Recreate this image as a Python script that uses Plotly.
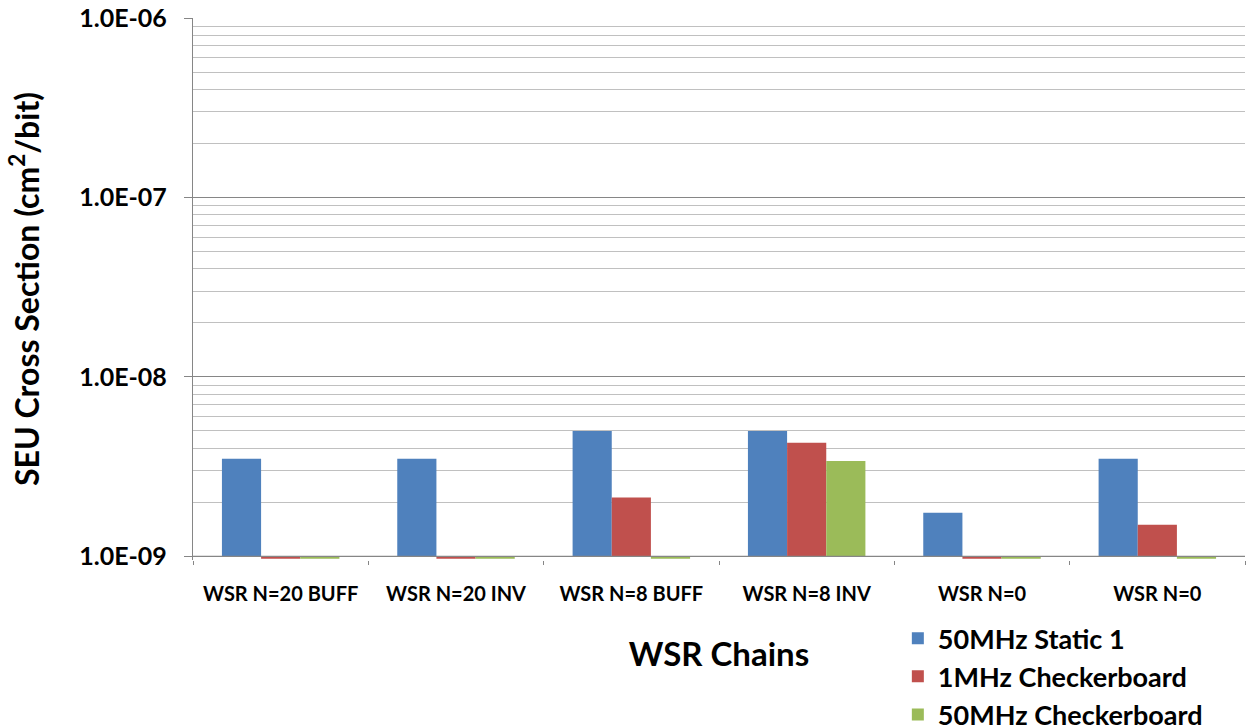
import math
import plotly.graph_objects as go

# WSR chain categories (two separate chains are both labelled "WSR N=0")
chains = ["WSR N=20 BUFF", "WSR N=20 INV", "WSR N=8 BUFF", "WSR N=8 INV", "WSR N=0", "WSR N=0"]

# SEU cross section per bit (cm^2/bit); values below 1e-9 are "no upsets" entries
static_50mhz = [3.5e-9, 3.5e-9, 5.0e-9, 5.0e-9, 1.75e-9, 3.5e-9]
checker_1mhz = [0.97e-9, 0.97e-9, 2.13e-9, 4.3e-9, 0.97e-9, 1.5e-9]
checker_50mhz = [0.97e-9, 0.97e-9, 0.97e-9, 3.4e-9, 0.97e-9, 0.97e-9]

series_names = ["50MHz Static 1", "1MHz Checkerboard", "50MHz Checkerboard"]
series_colors = ["#4F81BD", "#C0504D", "#9BBB59"]

y_tick_vals = [1e-9, 1e-8, 1e-7, 1e-6]
y_tick_text = ["1.0E-09", "1.0E-08", "1.0E-07", "1.0E-06"]

BASE = 1e-9  # bars grow from the 1e-9 baseline (up or down)
FONT = "Lato"
AXIS_GREY = "#868686"

x_pos = list(range(len(chains)))

fig = go.Figure()
for name, color, vals in zip(series_names, series_colors,
                             [static_50mhz, checker_1mhz, checker_50mhz]):
    fig.add_trace(go.Bar(
        x=x_pos,
        y=[v - BASE for v in vals],
        base=BASE,
        name="<b>" + name + "</b>",
        marker=dict(color=color, line=dict(width=0)),
        customdata=vals,
        hovertemplate="%{customdata:.2e}<extra>" + name + "</extra>",
    ))

# horizontal category axis line at the baseline
fig.add_shape(type="line", xref="paper", yref="y", x0=0, x1=1, y0=BASE, y1=BASE,
              line=dict(color=AXIS_GREY, width=1.3))

fig.update_layout(
    width=1247, height=727,
    margin=dict(l=193, r=2, t=18, b=167, autoexpand=False),
    paper_bgcolor="white", plot_bgcolor="white",
    barmode="group", bargap=0.33, bargroupgap=0,
    font=dict(family=FONT, color="black"),
    showlegend=True,
    legend=dict(
        x=0.670, y=-0.10, xanchor="left", yanchor="top",
        font=dict(family=FONT, size=27, color="black"),
        traceorder="normal", itemwidth=30, tracegroupgap=0,
        bgcolor="rgba(0,0,0,0)",
    ),
    xaxis=dict(
        range=[-0.5, len(chains) - 0.5],
        tickmode="array", tickvals=x_pos, ticktext=["<b>" + c + "</b>" for c in chains],
        ticks="", showgrid=False, showline=False, zeroline=False,
        tickfont=dict(family=FONT, size=20, color="black"),
        ticklabelstandoff=20,
        minor=dict(tickvals=[i - 0.5 for i in range(len(chains) + 1)],
                   ticks="outside", ticklen=4, tickcolor=AXIS_GREY, tickwidth=1.3),
        title=dict(text="<b>WSR Chains</b>", font=dict(family=FONT, size=33, color="black"),
                   standoff=38),
        fixedrange=True,
    ),
    yaxis=dict(
        type="log",
        range=[math.log10(BASE) - 0.02, -6],
        tickmode="array", tickvals=y_tick_vals, ticktext=["<b>" + t + "</b>" for t in y_tick_text],
        tickfont=dict(family=FONT, size=25, color="black"),
        ticks="outside", ticklen=8, tickcolor=AXIS_GREY, tickwidth=1.3,
        ticklabelstandoff=12,
        showline=True, linecolor=AXIS_GREY, linewidth=1.3,
        showgrid=True, gridcolor=AXIS_GREY, gridwidth=1.3,
        minor=dict(dtick="D1", showgrid=True, gridcolor="#C0C0C0", gridwidth=1, ticks=""),
        zeroline=False,
        title=dict(text="<b>SEU Cross Section (cm<sup>2</sup>/bit)</b>",
                   font=dict(family=FONT, size=32, color="black"), standoff=30),
        fixedrange=True,
    ),
)

fig.write_html("out.html")
